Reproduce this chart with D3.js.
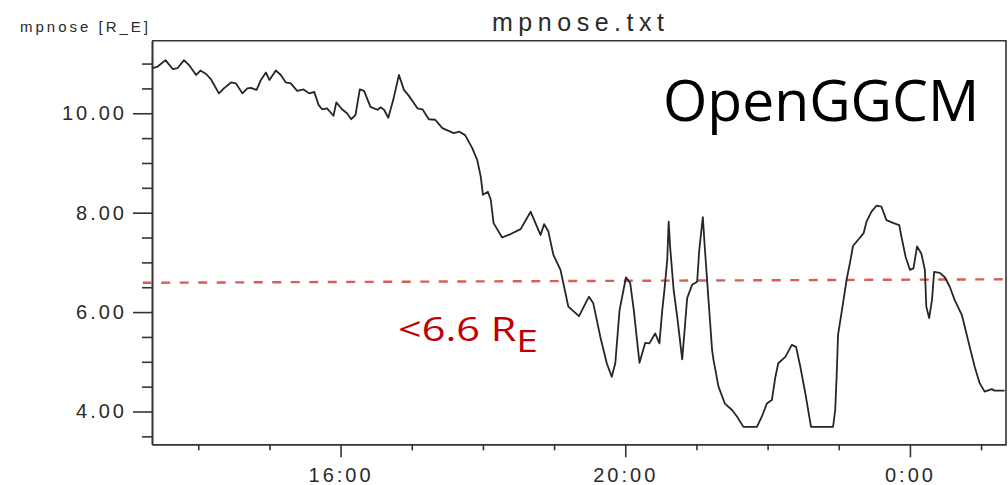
<!DOCTYPE html>
<html>
<head>
<meta charset="utf-8">
<script src="https://cdn.jsdelivr.net/npm/d3@7"></script>
<style>
  body { margin: 0; background: #fff; }
  svg { display: block; }
  .axis text { font-family: "Liberation Sans", Arial, sans-serif; font-size: 20px; fill: #2a2a2a; letter-spacing: 3px; }
  .axis line, .axis path { stroke: #333; stroke-width: 1.6; }
</style>
</head>
<body>
<div id="chart"></div>
<script>
// time in hours (values past 24 are after midnight), mpnose in R_E
var timeHours = [13.36, 13.43, 13.54, 13.64, 13.71, 13.80, 13.87, 13.97, 14.03, 14.11,
  14.18, 14.29, 14.36, 14.46, 14.53, 14.62, 14.69, 14.74, 14.82, 14.88,
  14.95, 15.00, 15.09, 15.16, 15.23, 15.30, 15.39, 15.48, 15.56, 15.63,
  15.69, 15.74, 15.81, 15.90, 15.94, 16.02, 16.09, 16.15, 16.21, 16.27,
  16.33, 16.42, 16.52, 16.56, 16.61, 16.67, 16.74, 16.82, 16.89, 16.96,
  17.08, 17.15, 17.24, 17.33, 17.43, 17.59, 17.67, 17.75, 17.85, 17.92,
  17.97, 18.00, 18.07, 18.11, 18.15, 18.27, 18.39, 18.53, 18.67, 18.81,
  18.86, 18.92, 18.99, 19.09, 19.16, 19.20, 19.35, 19.49, 19.55, 19.65,
  19.74, 19.81, 19.86, 19.92, 20.01, 20.07, 20.12, 20.16, 20.20, 20.28,
  20.34, 20.42, 20.48, 20.52, 20.55, 20.59, 20.61, 20.63, 20.68, 20.73,
  20.80, 20.83, 20.87, 20.94, 21.01, 21.04, 21.09, 21.12, 21.17, 21.22,
  21.24, 21.31, 21.40, 21.50, 21.57, 21.66, 21.85, 21.92, 21.99, 22.06,
  22.11, 22.15, 22.25, 22.34, 22.40, 22.46, 22.53, 22.61, 22.92, 22.95,
  22.97, 22.99, 23.06, 23.11, 23.16, 23.20, 23.27, 23.35, 23.39, 23.46,
  23.53, 23.60, 23.67, 23.77, 23.85, 23.88, 23.94, 24.00, 24.05, 24.10,
  24.16, 24.21, 24.23, 24.27, 24.31, 24.34, 24.42, 24.49, 24.56, 24.63,
  24.73, 24.77, 24.84, 24.91, 24.98, 25.05, 25.15, 25.19, 25.33];
var mpnose = [10.91, 10.94, 11.07, 10.89, 10.91, 11.07, 10.97, 10.77, 10.86, 10.79,
  10.68, 10.40, 10.50, 10.62, 10.60, 10.40, 10.50, 10.51, 10.47, 10.67,
  10.82, 10.67, 10.86, 10.77, 10.62, 10.60, 10.45, 10.48, 10.40, 10.43,
  10.17, 10.08, 10.10, 9.95, 10.22, 10.08, 10.00, 9.88, 9.97, 10.48,
  10.45, 10.13, 10.07, 10.12, 10.07, 9.91, 10.27, 10.77, 10.47, 10.35,
  10.10, 10.08, 9.88, 9.87, 9.70, 9.60, 9.63, 9.56, 9.30, 9.06,
  8.72, 8.36, 8.42, 8.26, 7.79, 7.50, 7.57, 7.67, 8.02, 7.55,
  7.77, 7.62, 7.15, 6.85, 6.38, 6.11, 5.92, 6.31, 6.18, 5.50,
  4.97, 4.70, 4.97, 6.04, 6.70, 6.58, 6.04, 5.50, 4.98, 5.38,
  5.37, 5.57, 5.37, 6.04, 6.44, 7.05, 7.82, 7.32, 6.44, 5.91,
  5.05, 5.57, 6.28, 6.55, 6.61, 7.25, 7.91, 7.25, 6.24, 5.24,
  5.04, 4.50, 4.16, 4.03, 3.90, 3.69, 3.69, 3.90, 4.16, 4.23,
  4.70, 4.97, 5.10, 5.34, 5.30, 4.90, 4.37, 3.69, 3.69, 4.03,
  4.70, 5.54, 6.18, 6.65, 7.01, 7.33, 7.45, 7.59, 7.82, 8.02,
  8.14, 8.12, 7.85, 7.79, 7.75, 7.52, 7.11, 6.85, 6.88, 7.32,
  7.18, 6.85, 6.11, 5.88, 6.24, 6.81, 6.79, 6.70, 6.51, 6.24,
  5.94, 5.71, 5.30, 4.90, 4.57, 4.40, 4.45, 4.42, 4.42];

// hand-drawn 6.6 R_E threshold line
var thresholdTimes = [13.22, 25.35];
var thresholdValues = [6.59, 6.66];

var yMajorTicks = [4, 6, 8, 10];
var yMinorTicks = [3.5, 4.5, 5, 5.5, 6.5, 7, 7.5, 8.5, 9, 9.5, 10.5, 11];
var xMajorTicks = [16, 20, 24];
var xTickLabels = ["16:00", "20:00", "0:00"];
var xMinorTicks = [14, 15, 17, 18, 19, 21, 22, 23, 25];

var W = 1008, H = 485;
var plot = {left: 152, right: 1006, top: 40.7, bottom: 444.3};

var svg = d3.select("#chart").append("svg")
  .attr("width", W)
  .attr("height", H);

var x = d3.scaleLinear().domain([13.35, 25.35]).range([plot.left, plot.right]);
var y = d3.scaleLinear().domain([3.34, 11.46]).range([plot.bottom, plot.top]);

// frame (top and right sides)
svg.append("path")
  .attr("d", "M" + plot.left + "," + plot.top + "H" + plot.right + "V" + plot.bottom)
  .attr("fill", "none")
  .attr("stroke", "#333")
  .attr("stroke-width", 1.6);

// y axis: minor then major
svg.append("g").attr("class", "axis")
  .attr("transform", "translate(" + plot.left + ",0)")
  .call(d3.axisLeft(y).tickValues(yMinorTicks).tickSize(10).tickSizeOuter(0).tickFormat(""));
svg.append("g").attr("class", "axis")
  .attr("transform", "translate(" + plot.left + ",0)")
  .call(d3.axisLeft(y).tickValues(yMajorTicks).tickSize(19).tickSizeOuter(0).tickPadding(6)
    .tickFormat(d3.format(".2f")));

// x axis
svg.append("g").attr("class", "axis")
  .attr("transform", "translate(0," + plot.bottom + ")")
  .call(d3.axisBottom(x).tickValues(xMinorTicks).tickSize(6).tickSizeOuter(0).tickFormat(""));
svg.append("g").attr("class", "axis")
  .attr("transform", "translate(0," + plot.bottom + ")")
  .call(d3.axisBottom(x).tickValues(xMajorTicks).tickSize(13).tickSizeOuter(0).tickPadding(11)
    .tickFormat(function(d, i) { return xTickLabels[i]; }));

// threshold line
svg.append("path")
  .datum(thresholdTimes.map(function(t, i) { return [t, thresholdValues[i]]; }))
  .attr("d", d3.line().x(function(d) { return x(d[0]); }).y(function(d) { return y(d[1]); }))
  .attr("fill", "none")
  .attr("stroke", "#d85c57")
  .attr("stroke-width", 2.4)
  .attr("stroke-dasharray", "9,9.5");

// mpnose curve
svg.append("path")
  .datum(timeHours.map(function(t, i) { return [t, mpnose[i]]; }))
  .attr("d", d3.line().x(function(d) { return x(d[0]); }).y(function(d) { return y(d[1]); }))
  .attr("fill", "none")
  .attr("stroke", "#262626")
  .attr("stroke-width", 1.8)
  .attr("stroke-linejoin", "round");

// titles
svg.append("text")
  .attr("x", 20).attr("y", 32)
  .attr("textLength", 128).attr("lengthAdjust", "spacing")
  .style("font-family", "Liberation Sans, Arial, sans-serif")
  .style("font-size", "15px").style("fill", "#2a2a2a")
  .text("mpnose [R_E]");

svg.append("text")
  .attr("x", 492).attr("y", 31)
  .attr("textLength", 172).attr("lengthAdjust", "spacing")
  .style("font-family", "Liberation Sans, Arial, sans-serif")
  .style("font-size", "25px").style("fill", "#2a2a2a")
  .text("mpnose.txt");

svg.append("text")
  .attr("x", 663).attr("y", 121)
  .style("font-family", "Open Sans, Noto Sans, sans-serif")
  .style("font-size", "57px").style("fill", "#000")
  .text("OpenGGCM");

var lbl = svg.append("text")
  .attr("x", 398).attr("y", 341)
  .attr("textLength", 140).attr("lengthAdjust", "spacingAndGlyphs")
  .style("font-family", "Open Sans, Noto Sans, sans-serif")
  .style("font-size", "33px").style("fill", "#c00000");
lbl.append("tspan").text("<6.6 R");
lbl.append("tspan").attr("dy", 11).style("font-size", "31px").text("E");
</script>
</body>
</html>
